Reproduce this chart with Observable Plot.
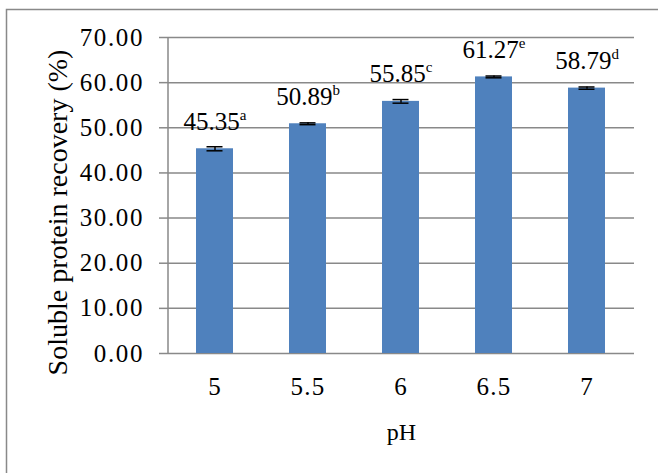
<!DOCTYPE html>
<html>
<head>
<meta charset="utf-8">
<script src="https://cdn.jsdelivr.net/npm/d3@7"></script>
<script src="https://cdn.jsdelivr.net/npm/@observablehq/plot@0.6"></script>
<style>
  html, body { margin: 0; padding: 0; background: #fff; }
  #chart { width: 658px; height: 473px; overflow: hidden; }
</style>
</head>
<body>
<div id="chart"></div>
<script>
// Soluble protein recovery at each extraction pH (mean ± SD, letters = significance groups)
const pH = ["5", "5.5", "6", "6.5", "7"];
const recovery = [45.35, 50.89, 55.85, 61.27, 58.79];
const sd = [0.45, 0.2, 0.4, 0.2, 0.25];
const letters = ["a", "b", "c", "e", "d"];
const yTicks = [0, 10, 20, 30, 40, 50, 60, 70];

const rows = pH.map((p, i) => ({pH: p, recovery: recovery[i], sd: sd[i], letter: letters[i]}));

const gray = "#898989";
const serif = "'Liberation Serif', 'Times New Roman', Times, serif";

// left edge of the plot area
const axisLine = (index, {y}, values, dims) => {
  const p = document.createElementNS("http://www.w3.org/2000/svg", "path");
  p.setAttribute("d", `M${dims.marginLeft},${y(0)}V${y(70)}`);
  p.setAttribute("stroke", gray);
  p.setAttribute("stroke-width", 1.5);
  p.setAttribute("fill", "none");
  return p;
};

const chart = Plot.plot({
  width: 658,
  height: 473,
  marginLeft: 168,
  marginRight: 24,
  marginTop: 37,
  marginBottom: 120,
  style: {fontFamily: serif, background: "#fff", color: "#000", overflow: "visible"},
  x: {domain: pH, paddingInner: 0.6, paddingOuter: 0.3, label: null},
  y: {domain: [0, 70], label: null},
  marks: [
    Plot.gridY(yTicks, {stroke: gray, strokeOpacity: 1, strokeWidth: 1.5}),
    Plot.axisY({ticks: yTicks, tickSize: 9, tickPadding: 15.5, tickFormat: d => d.toFixed(2),
      fontSize: 25, stroke: gray, strokeWidth: 1.5, strokeOpacity: 1, label: null}),
    Plot.axisX({tickSize: 0, tickPadding: 24, fontSize: 25, label: null}),
    axisLine,
    Plot.barY(rows, {x: "pH", y: "recovery", fill: "#4F81BD"}),
    Plot.ruleX(rows, {x: "pH", y1: d => d.recovery - d.sd, y2: d => d.recovery + d.sd,
      stroke: "#000", strokeWidth: 1.5}),
    Plot.tickY(rows, {x: "pH", y: d => d.recovery - d.sd, stroke: "#000", strokeWidth: 1.5,
      insetLeft: 10.5, insetRight: 10.5}),
    Plot.tickY(rows, {x: "pH", y: d => d.recovery + d.sd, stroke: "#000", strokeWidth: 1.5,
      insetLeft: 10.5, insetRight: 10.5}),
    Plot.text(rows, {x: "pH", y: "recovery", text: d => d.recovery.toFixed(2), dy: -27,
      fontSize: 25, fill: "#000"}),
    Plot.text(["Soluble protein recovery (%)"], {frameAnchor: "left", rotate: -90,
      textAnchor: "middle", lineAnchor: "middle", dx: -110, dy: 17, fontSize: 28, fill: "#000"}),
    Plot.text(["pH"], {frameAnchor: "bottom", textAnchor: "middle", lineAnchor: "middle",
      dy: 79, fontSize: 24, fill: "#000"})
  ]
});

const svg = d3.select(chart);
const textGroups = svg.selectAll('g[aria-label="text"]').nodes();

// significance letters as superscripts after each value
d3.select(textGroups[0]).selectAll("text").each(function (_, j) {
  d3.select(this).append("tspan")
    .attr("font-size", 15)
    .attr("dy", -10)
    .text(rows[j].letter);
});

// slightly wider letterforms for tick labels
svg.selectAll('g[aria-label="y-axis tick label"] text').style("letter-spacing", "1.6px");
svg.selectAll('g[aria-label="x-axis tick label"] text').style("letter-spacing", "1.2px");

// outer chart border (top and left edges)
svg.insert("path", ":first-child")
  .attr("d", "M6.5,473V9.5H658")
  .attr("fill", "none")
  .attr("stroke", gray)
  .attr("stroke-width", 1.5);

document.getElementById("chart").append(chart);
</script>
</body>
</html>
